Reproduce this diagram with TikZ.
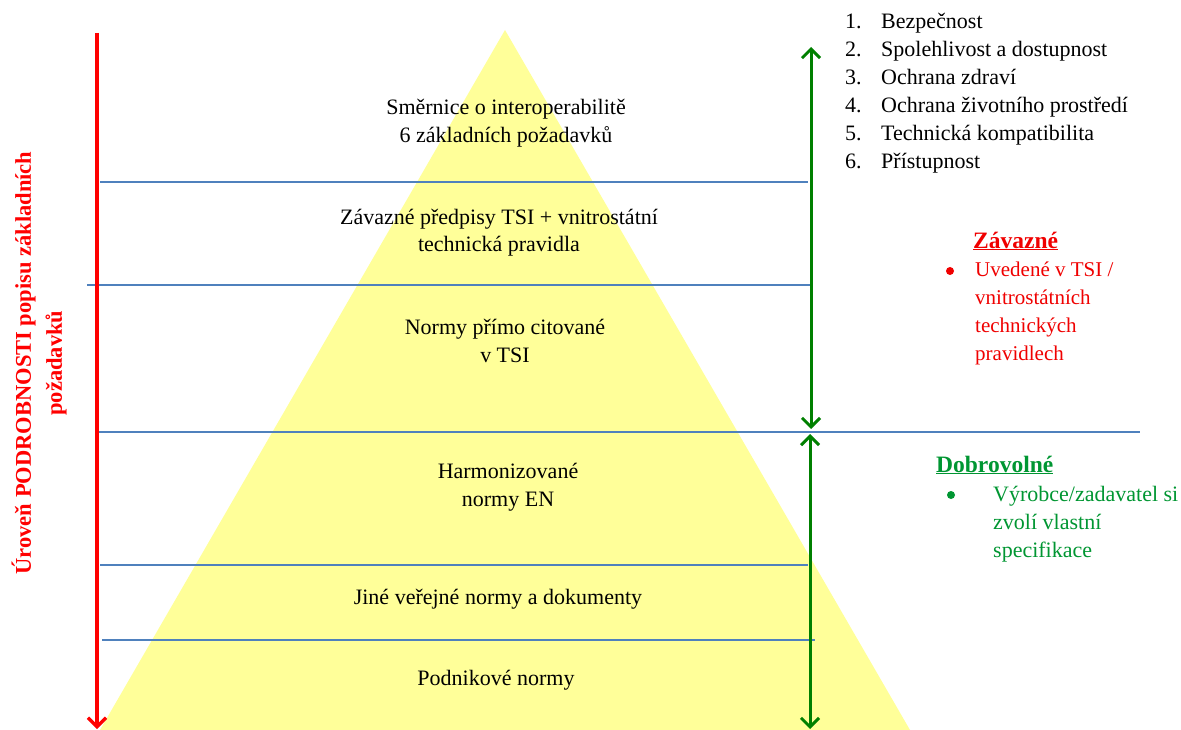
\documentclass[tikz,border=0pt]{standalone}
\usepackage{fontspec}
\setmainfont{Liberation Serif}
\usetikzlibrary{arrows.meta}
\definecolor{pyr}{RGB}{255,255,153}
\definecolor{lineblue}{RGB}{79,129,189}
\definecolor{arrgreen}{RGB}{0,128,0}
\definecolor{txtgreen}{RGB}{0,150,50}
\definecolor{txtred}{RGB}{240,0,0}
\begin{document}
\begin{tikzpicture}[x=1pt,y=-1pt,
  level/.style={line width=1.4pt, draw=lineblue},
  pyrtext/.style={anchor=base, align=center, inner sep=0pt, font=\fontsize{22}{28}\selectfont},
  sidetext/.style={anchor=base west, align=left, inner sep=0pt, font=\fontsize{22}{28}\selectfont},
  headtext/.style={anchor=base west, inner sep=0pt, font=\fontsize{23.5}{28}\selectfont\bfseries},
  dot/.style={circle, inner sep=0pt, minimum size=8pt},
  bigarrow/.style={line width=3.2pt, -{Straight Barb[length=9pt,width=18pt]}},
  twoway/.style={line width=3pt, draw=arrgreen, {Straight Barb[length=9pt,width=18pt]}-{Straight Barb[length=9pt,width=18pt]}}
]
\useasboundingbox (0,0) rectangle (1181,730);
\fill[white] (0,0) rectangle (1181,730);
% pyramid
\fill[pyr] (505,30) -- (910,730) -- (100,730) -- cycle;
% level lines
\draw[level] (100,182) -- (808,182);
\draw[level] (87,285) -- (812,285);
\draw[level] (96,432) -- (1140,432);
\draw[level] (100,565) -- (808,565);
\draw[level] (102,640) -- (815,640);
% red arrow
\coordinate (rtop) at (97,33);
\coordinate (rbot) at (97,729);
\draw[bigarrow, red] (rtop) -- (rbot);
% green arrows
\coordinate (g1) at (811,47);
\coordinate (g2) at (811,429);
\coordinate (g3) at (810,434);
\coordinate (g4) at (810,729);
\draw[twoway] (g1) -- (g2);
\draw[twoway] (g3) -- (g4);
% pyramid texts (base = baseline of last line)
\node[pyrtext] (t1) at (506,143) {Směrnice o interoperabilitě\\6 základních požadavků};
\node[pyrtext] (t2) at (499,252) {Závazné předpisy TSI + vnitrostátní\\technická pravidla};
\node[pyrtext] (t3) at (505,362) {Normy přímo citované\\v TSI};
\node[pyrtext] (t4) at (508,506) {Harmonizované\\normy EN};
\node[pyrtext] (t5) at (498,604) {Jiné veřejné normy a dokumenty};
\node[pyrtext] (t6) at (496,685) {Podnikové normy};
% list
\node[sidetext] (list) at (845,169) {%
\makebox[36pt][l]{1.}Bezpečnost\\
\makebox[36pt][l]{2.}Spolehlivost a dostupnost\\
\makebox[36pt][l]{3.}Ochrana zdraví\\
\makebox[36pt][l]{4.}Ochrana životního prostředí\\
\makebox[36pt][l]{5.}Technická kompatibilita\\
\makebox[36pt][l]{6.}Přístupnost};
% Závazné
\node[headtext, text=txtred] (zh) at (973,248) {\underline{Závazné}};
\node[dot, fill=txtred] (zb) at (950,271) {};
\node[sidetext, text=txtred, font=\fontsize{21}{27.7}\selectfont] (zt) at (975,360) {Uvedené v TSI /\\vnitrostátních\\technických\\pravidlech};
% Dobrovolné
\node[headtext, text=txtgreen] (dh) at (936,472) {\underline{Dobrovolné}};
\node[dot, fill=txtgreen] (db) at (951,495) {};
\node[sidetext, text=txtgreen] (dt) at (993,557) {Výrobce/zadavatel si\\zvolí vlastní\\specifikace};
% left label
\node[rotate=90, align=center, inner sep=0pt, text=red, font=\fontsize{22.5}{31}\selectfont\bfseries] (lab) at (39,363) {Úroveň PODROBNOSTI popisu základních\\požadavků};
\end{tikzpicture}
\end{document}
